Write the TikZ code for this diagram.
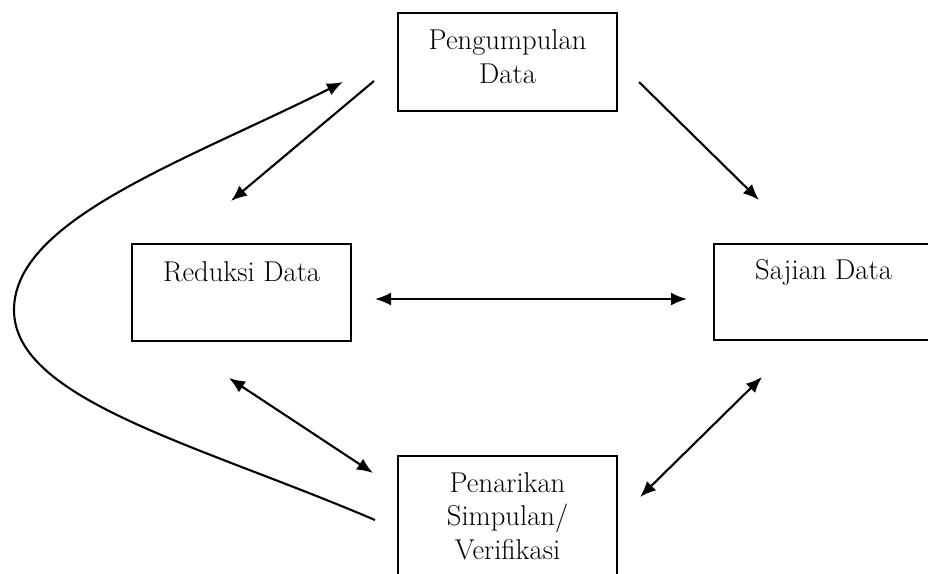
\documentclass[tikz,border=0pt]{standalone}
\usetikzlibrary{arrows.meta}

\begin{document}
\begin{tikzpicture}[x=0.2mm, y=-0.2mm, line width=1.2pt,
      every node/.style={font=\fontsize{16.3}{19}\selectfont},
      box/.style={rectangle, draw, line width=1.2pt, inner sep=0pt, minimum width=43.8mm, align=center},
      tolink/.style={-{Latex[length=3.2mm, width=2.6mm]}},
      link/.style={{Latex[length=3.2mm, width=2.6mm]}-{Latex[length=3.2mm, width=2.6mm]}}]

      \useasboundingbox (0,0) rectangle (928,573);
      \clip (0,0) rectangle (928,573);

      % Boxes
      \node[box, anchor=north west, text height=14mm, text depth=5.6mm] (kumpul) at (397,12) {Pengumpulan\\Data};
      \node[box, anchor=north west, text height=7.4mm, text depth=12mm] (reduksi) at (131,243) {Reduksi Data};
      \node[box, anchor=north west, text height=7mm, text depth=12.2mm] (sajian) at (713,243) {Sajian Data};
      \node[box, anchor=north west, text height=20.6mm, text depth=6.4mm] (simpulan) at (397,455) {Penarikan\\Simpulan/\\Verifikasi};

      % Arrow ends
      \coordinate (kr1) at (374,81);
      \coordinate (kr2) at (231,201);
      \coordinate (ks1) at (639,82);
      \coordinate (ks2) at (759,200);
      \coordinate (rs1) at (375,299);
      \coordinate (rs2) at (687,299);
      \coordinate (rp1) at (229,378);
      \coordinate (rp2) at (373,473);
      \coordinate (sp1) at (762,377);
      \coordinate (sp2) at (640,497);
      \coordinate (loopin) at (375,520);
      \coordinate (loopleft) at (14,310);
      \coordinate (loopout) at (343,82);

      % Arrows
      \draw[tolink] (kr1) -- (kr2);
      \draw[tolink] (ks1) -- (ks2);
      \draw[link] (rs1) -- (rs2);
      \draw[link] (rp1) -- (rp2);
      \draw[link] (sp1) -- (sp2);

      % Feedback curve
      \draw[tolink] (loopin) .. controls (200,445) and (14,400) .. (loopleft)
        .. controls (14,220) and (183,162) .. (loopout);
    \end{tikzpicture}
\end{document}
